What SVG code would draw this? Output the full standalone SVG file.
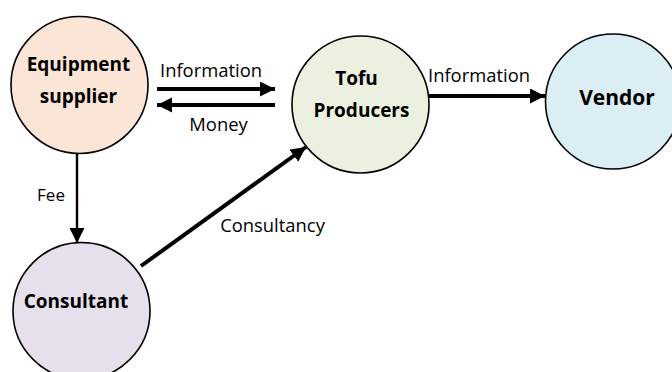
<svg xmlns="http://www.w3.org/2000/svg" width="672" height="372" viewBox="0 0 672 372">
  <style>
    .node { stroke: #000; stroke-width: 1.6; }
    .title { font-family: "Open Sans", "Liberation Sans", sans-serif; font-weight: bold; font-size: 19px; fill: #000; text-anchor: middle; }
    .label { font-family: "Open Sans", "Liberation Sans", sans-serif; font-size: 18.4px; fill: #000; text-anchor: middle; }
    .edge { stroke: #000; fill: none; }
    .thick { stroke-width: 4; }
    .thin { stroke-width: 2.4; }
  </style>
  <defs>
    <marker id="headThick" markerUnits="userSpaceOnUse" markerWidth="16" markerHeight="16" refX="15" refY="7.5" orient="auto">
      <path d="M0,0 L15,7.5 L0,15 Z" fill="#000"/>
    </marker>
    <marker id="headThin" markerUnits="userSpaceOnUse" markerWidth="16" markerHeight="16" refX="15" refY="7.5" orient="auto">
      <path d="M0,0 L15,7.5 L0,15 Z" fill="#000"/>
    </marker>
  </defs>

  <g id="connectors">
    <line class="edge thick" x1="157" y1="89" x2="275" y2="89" marker-end="url(#headThick)"/>
    <line class="edge thick" x1="275" y1="105" x2="157" y2="105" marker-end="url(#headThick)"/>
    <line class="edge thick" x1="429" y1="96" x2="545" y2="96" marker-end="url(#headThick)"/>
    <line class="edge thin" x1="77" y1="148" x2="77" y2="243" marker-end="url(#headThin)"/>
    <line class="edge thick" x1="141" y1="266" x2="306" y2="147" marker-end="url(#headThick)"/>
    <text class="label" x="211" y="77">Information</text>
    <text class="label" x="218.5" y="131">Money</text>
    <text class="label" x="479" y="81.5">Information</text>
    <text class="label" x="51" y="201" style="font-size:17px">Fee</text>
    <text class="label" x="272.5" y="232">Consultancy</text>
  </g>

  <g id="equipment-supplier">
    <circle class="node" cx="79.5" cy="85" r="68.5" fill="#FBE5D6"/>
    <text class="title" x="78.5" y="70.5">Equipment</text>
    <text class="title" x="78.5" y="102.5">supplier</text>
  </g>

  <g id="tofu-producers">
    <circle class="node" cx="360.5" cy="104.5" r="68.5" fill="#EBF1DE"/>
    <text class="title" x="356.5" y="84.5">Tofu</text>
    <text class="title" x="361.5" y="116.5">Producers</text>
  </g>

  <g id="vendor">
    <circle class="node" cx="613" cy="101.5" r="67.5" fill="#DAEEF3"/>
    <text class="title" x="617" y="105" style="font-size:21px">Vendor</text>
  </g>

  <g id="consultant">
    <circle class="node" cx="81.5" cy="311" r="68.5" fill="#E5E0EC"/>
    <text class="title" x="76" y="307.5">Consultant</text>
  </g>
</svg>
